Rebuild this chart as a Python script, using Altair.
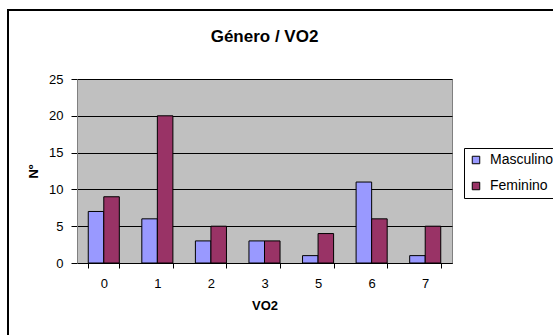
import altair as alt
import pandas as pd

categorias = ["0", "1", "2", "3", "5", "6", "7"]
masculino = [7, 6, 3, 3, 1, 11, 1]
feminino = [9, 20, 5, 3, 4, 6, 5]
series = ["Masculino", "Feminino"]
cores = ["#9999FF", "#993366"]
y_ticks = [0, 5, 10, 15, 20, 25]

rows = []
for c, m, f in zip(categorias, masculino, feminino):
    rows.append({"VO2": c, "Serie": "Masculino", "N": m})
    rows.append({"VO2": c, "Serie": "Feminino", "N": f})
df = pd.DataFrame(rows)

FONT = "Liberation Sans"

bars = alt.Chart(df).mark_bar(stroke="#000000", strokeWidth=1).encode(
    x=alt.X(
        "VO2:N",
        sort=categorias,
        scale=alt.Scale(paddingInner=0.42, paddingOuter=0.21),
        axis=alt.Axis(
            title="VO2",
            labelAngle=0,
            tickBand="extent",
            tickSize=5,
            tickColor="#000000",
            domainColor="#000000",
            labelFontSize=13,
            labelPadding=9,
            labelFont=FONT,
            labelColor="#000000",
            titleFont=FONT,
            titleFontSize=13,
            titleFontWeight="bold",
            titleColor="#000000",
            titleY=42,
            titleBaseline="middle",
            grid=False,
        ),
    ),
    xOffset=alt.XOffset("Serie:N", sort=series),
    y=alt.Y(
        "N:Q",
        scale=alt.Scale(domain=[0, 25]),
        axis=alt.Axis(
            title="Nº",
            values=y_ticks,
            tickSize=6,
            tickColor="#000000",
            domainColor="#808080",
            labelFontSize=13,
            labelPadding=8,
            labelFont=FONT,
            labelColor="#000000",
            titleFont=FONT,
            titleFontSize=13,
            titleFontWeight="bold",
            titleColor="#000000",
            titleX=-44,
            titleY=92,
            titleAngle=270,
            titleBaseline="middle",
            titleAlign="center",
            grid=True,
            gridColor="#000000",
            gridWidth=1,
        ),
    ),
    color=alt.Color(
        "Serie:N",
        sort=series,
        scale=alt.Scale(domain=series, range=cores),
        legend=alt.Legend(
            title=None,
            orient="none",
            legendX=387,
            legendY=69,
            strokeColor="#000000",
            fillColor="#FFFFFF",
            padding=5,
            symbolType="square",
            symbolSize=56,
            symbolStrokeColor="#000000",
            symbolStrokeWidth=1,
            labelFontSize=14,
            labelFont=FONT,
            labelColor="#000000",
            labelOffset=7,
            rowPadding=12,
        ),
    ),
)

border = alt.Chart(alt.Data(values=[{"a": 1}])).mark_rect(
    fillOpacity=0, stroke="#000000", strokeWidth=2
).encode(
    x=alt.value(-69),
    x2=alt.value(490),
    y=alt.value(-69),
    y2=alt.value(280),
)

chart = alt.layer(border, bars).properties(
    width=375,
    height=184,
    background="#FFFFFF",
    autosize=alt.AutoSizeParams(type="none"),
    padding={"left": 77, "top": 79, "right": 101, "bottom": 72},
    title=alt.Title(
        "Género / VO2",
        fontSize=17,
        fontWeight="bold",
        font=FONT,
        color="#000000",
        anchor="middle",
        frame="group",
        offset=-49.5,
        dx=0,
        baseline="alphabetic",
    ),
).configure_view(
    fill="#C0C0C0", stroke="#808080", strokeWidth=1
)

chart.save("out.html", embed_options={"renderer": "svg", "actions": False})
